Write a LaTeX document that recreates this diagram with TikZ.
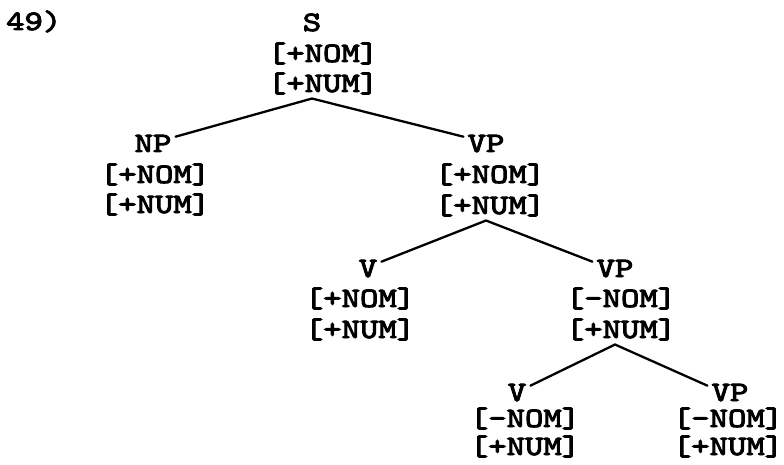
\documentclass[tikz,border=0pt]{standalone}
\font\twfont="[lmmono10-regular]:embolden=3.5;extend=1.25" at 28pt
\begin{document}
\begin{tikzpicture}[x=1pt,y=-1pt,
  lab/.style={anchor=base, inner sep=0pt, font=\twfont},
  edge/.style={line width=2.3pt, line cap=round}]
\useasboundingbox (0,0) rectangle (784,465);
\node[lab, anchor=base west] (ex) at (6,30) {49)};
% S
\node[lab] (S)     at (312,31) {S};
\node[lab] (Snom)  at (323,62) {[+NOM]};
\node[lab] (Snum)  at (323,92) {[+NUM]};
% NP
\node[lab] (NP)    at (153,152) {NP};
\node[lab] (NPnom) at (155,183) {[+NOM]};
\node[lab] (NPnum) at (155,213) {[+NUM]};
% VP1
\node[lab] (VPa)    at (486,152) {VP};
\node[lab] (VPanom) at (490,183) {[+NOM]};
\node[lab] (VPanum) at (490,214) {[+NUM]};
% V2
\node[lab] (Vb)    at (368,277) {V};
\node[lab] (Vbnom) at (360,307) {[+NOM]};
\node[lab] (Vbnum) at (360,338) {[+NUM]};
% VP2
\node[lab] (VPb)    at (615,277) {VP};
\node[lab] (VPbnom) at (621,307) {[-NOM]};
\node[lab] (VPbnum) at (621,338) {[+NUM]};
% V3
\node[lab] (Vc)    at (517,401) {V};
\node[lab] (Vcnom) at (525,427) {[-NOM]};
\node[lab] (Vcnum) at (525,455) {[+NUM]};
% VP3
\node[lab] (VPc)    at (730,401) {VP};
\node[lab] (VPcnom) at (728,427) {[-NOM]};
\node[lab] (VPcnum) at (728,455) {[+NUM]};
% edges
\draw[edge] ([shift={(4,2)}]NP.north east) -- ([yshift=-4pt]Snum.south -| S.south) -- ([shift={(-4,2)}]VPa.north west);
\draw[edge] ([shift={(4,2)}]Vb.north east) -- ([yshift=-4pt]VPanum.south -| VPa.south) -- ([shift={(-4,2)}]VPb.north west);
\draw[edge] ([shift={(4,2)}]Vc.north east) -- ([yshift=-4pt]VPbnum.south -| VPb.south) -- ([shift={(-4,2)}]VPc.north west);
\end{tikzpicture}
\end{document}
